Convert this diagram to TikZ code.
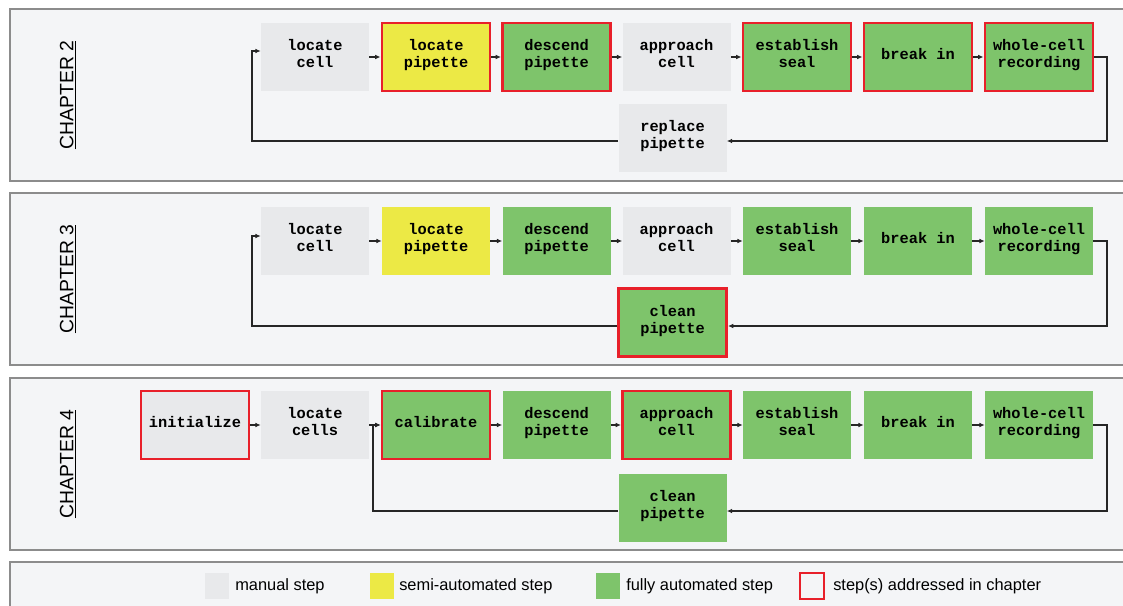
\documentclass[tikz,border=0pt]{standalone}
\usepackage{fontspec}
\setmainfont{Liberation Sans}
\newfontfamily\stepfont{Liberation Mono}
\usetikzlibrary{positioning, arrows.meta}

\definecolor{manual}{HTML}{E8E9EB}
\definecolor{semi}{HTML}{ECE945}
\definecolor{auto}{HTML}{7EC46B}
\definecolor{addr}{HTML}{E8202A}
\definecolor{panel}{HTML}{F4F5F7}
\definecolor{frame}{HTML}{8C8C8C}

\begin{document}
\begin{tikzpicture}[x=0.75pt, y=-0.75pt,
  stepbox/.style={minimum width=81pt, minimum height=51pt, inner sep=0pt, align=center,
    text depth=5pt, font=\stepfont\bfseries\fontsize{11.5}{12.75}\selectfont},
  manualbox/.style={stepbox, fill=manual},
  semibox/.style={stepbox, fill=semi},
  autobox/.style={stepbox, fill=auto},
  addressed/.style={draw=addr, line width=2.2pt},
  flow/.style={-{Latex[length=4pt,width=3.5pt]}, line width=1pt, draw=black!85},
  chapbox/.style={draw=frame, line width=1.8pt, fill=panel},
  chaptitle/.style={rotate=90, font=\fontsize{14.5}{17}\selectfont},
  swatch/.style={minimum width=18pt, minimum height=19.5pt, inner sep=0pt},
  keytext/.style={anchor=west, inner sep=0pt, font=\fontsize{12.3}{14}\selectfont}]
\useasboundingbox (0,0) rectangle (1123,606);
\clip (0,0) rectangle (1123,606);
\fill[white] (0,0) rectangle (1123,606);
\draw[chapbox] (10,9) rectangle (1140,181);
\draw[chapbox] (10,193) rectangle (1140,365);
\draw[chapbox] (10,378) rectangle (1140,550);
\draw[chapbox] (10,562) rectangle (1140,625);

% chapter 2
\node[chaptitle] (ch2) at (68,95) {\underline{CHAPTER 2}};
\node[manualbox] (lc2) at (315,57) {locate\\cell};
\node[semibox, addressed] (lp2) at (436,57) {locate\\pipette};
\node[autobox, addressed] (dp2) at (556.5,57) {descend\\pipette};
\node[manualbox] (ac2) at (676.5,57) {approach\\cell};
\node[autobox, addressed] (es2) at (797,57) {establish\\seal};
\node[autobox, addressed] (bi2) at (918,57) {break in};
\node[autobox, addressed] (wc2) at (1039,57) {whole-cell\\recording};
\node[manualbox] (rp2) at (672.5,138) {replace\\pipette};
\coordinate (turn2) at (1107,141);
\coordinate (up2) at (252,51);
\draw[flow] (lc2) -- (lp2);
\draw[flow] (lp2) -- (dp2);
\draw[flow] (dp2) -- (ac2);
\draw[flow] (ac2) -- (es2);
\draw[flow] (es2) -- (bi2);
\draw[flow] (bi2) -- (wc2);
\draw[flow] (wc2.east) -| (turn2) -- (turn2 -| rp2.east);
\draw[flow] (turn2 -| rp2.west) -| (up2) -- (up2 -| lc2.west);

% chapter 3
\node[chaptitle] (ch3) at (68,279) {\underline{CHAPTER 3}};
\node[manualbox] (lc3) at (315,241) {locate\\cell};
\node[semibox] (lp3) at (436,241) {locate\\pipette};
\node[autobox] (dp3) at (556.5,241) {descend\\pipette};
\node[manualbox] (ac3) at (676.5,241) {approach\\cell};
\node[autobox] (es3) at (797,241) {establish\\seal};
\node[autobox] (bi3) at (918,241) {break in};
\node[autobox] (wc3) at (1039,241) {whole-cell\\recording};
\node[autobox, addressed] (cp3) at (672.5,322.5) {clean\\pipette};
\coordinate (turn3) at (1107,326);
\coordinate (up3) at (252,236);
\draw[flow] (lc3) -- (lp3);
\draw[flow] (lp3) -- (dp3);
\draw[flow] (dp3) -- (ac3);
\draw[flow] (ac3) -- (es3);
\draw[flow] (es3) -- (bi3);
\draw[flow] (bi3) -- (wc3);
\draw[flow] (wc3.east) -| (turn3) -- (turn3 -| cp3.east);
\draw[flow] (turn3 -| cp3.west) -| (up3) -- (up3 -| lc3.west);

% chapter 4
\node[chaptitle] (ch4) at (68,464) {\underline{CHAPTER 4}};
\node[manualbox, addressed] (in4) at (195,425) {initialize};
\node[manualbox] (lc4) at (315,425) {locate\\cells};
\node[autobox, addressed] (ca4) at (436,425) {calibrate};
\node[autobox] (dp4) at (556.5,425) {descend\\pipette};
\node[autobox, addressed] (ac4) at (676.5,425) {approach\\cell};
\node[autobox] (es4) at (797,425) {establish\\seal};
\node[autobox] (bi4) at (918,425) {break in};
\node[autobox] (wc4) at (1039,425) {whole-cell\\recording};
\node[autobox] (cp4) at (672.5,508) {clean\\pipette};
\coordinate (turn4) at (1107,511);
\coordinate (up4) at (373,425);
\draw[flow] (in4) -- (lc4);
\draw[flow] (lc4) -- (ca4);
\draw[flow] (ca4) -- (dp4);
\draw[flow] (dp4) -- (ac4);
\draw[flow] (ac4) -- (es4);
\draw[flow] (es4) -- (bi4);
\draw[flow] (bi4) -- (wc4);
\draw[flow] (wc4.east) -| (turn4) -- (turn4 -| cp4.east);
\draw[flow] (turn4 -| cp4.west) -| (up4) -- (up4 -| ca4.west);

% legend
\node[swatch, fill=manual] (kman) at (217,586) {};
\node[keytext] (tman) at (235,586) {manual step};
\node[swatch, fill=semi] (ksemi) at (381.5,586) {};
\node[keytext] (tsemi) at (399,586) {semi-automated step};
\node[swatch, fill=auto] (kauto) at (607.5,586) {};
\node[keytext] (tauto) at (626,586) {fully automated step};
\node[swatch, addressed] (kaddr) at (812,586) {};
\node[keytext] (taddr) at (833,586) {step(s) addressed in chapter};
\end{tikzpicture}
\end{document}
